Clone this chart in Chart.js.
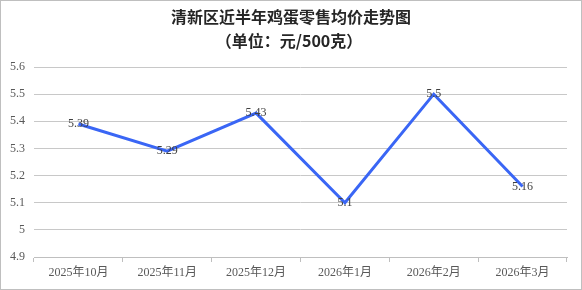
<!DOCTYPE html>
<html>
<head>
<meta charset="utf-8">
<script src="https://cdn.jsdelivr.net/npm/chart.js@4.4.1/dist/chart.umd.min.js"></script>
<style>
html,body{margin:0;padding:0;background:#fff;}
#wrap{width:582px;height:290px;position:relative;}
</style>
</head>
<body>
<div id="wrap"><canvas id="eggChart" width="582" height="290"></canvas></div>
<script>
(function () {

const months = ['2025年10月','2025年11月','2025年12月','2026年1月','2026年2月','2026年3月'];
const prices = [5.39, 5.29, 5.43, 5.1, 5.5, 5.16];
const titleLines = ['清新区近半年鸡蛋零售均价走势图', '（单位：元/500克）'];

const serif = '"Liberation Serif", "Noto Sans CJK SC", serif';

/* ---- frame, title and point labels ---- */
const decor = {
id: 'decor',
beforeDraw(chart) {
const {ctx} = chart;
ctx.save();
ctx.strokeStyle = '#bfbfbf';
ctx.lineWidth = 1;
ctx.strokeRect(0.5, 0.5, 581, 289);
ctx.fillStyle = '#262626';
ctx.font = 'bold 16px "Noto Sans CJK SC", sans-serif';
ctx.textAlign = 'center';
ctx.textBaseline = 'middle';
ctx.fillText(titleLines[0], 291, 17);
ctx.fillText(titleLines[1], 289, 41);
ctx.restore();
},
afterDatasetsDraw(chart) {
const {ctx} = chart;
const meta = chart.getDatasetMeta(0);
ctx.save();
ctx.font = '12px ' + serif;
ctx.fillStyle = '#404040';
ctx.textAlign = 'center';
ctx.textBaseline = 'middle';
meta.data.forEach((pt, i) => {
ctx.fillText(String(prices[i]), pt.x, pt.y);
});
ctx.restore();
}
};

new Chart(document.getElementById('eggChart').getContext('2d'), {
type: 'line',
data: {
labels: months,
datasets: [{
data: prices,
borderColor: '#3a66f5',
borderWidth: 3,
pointRadius: 0,
tension: 0,
fill: false
}]
},
options: {
responsive: false,
animation: false,
layout: {padding: {left: 0, right: 15, top: 67, bottom: 0}},
scales: {
x: {
offset: true,
grid: {offset: true, drawOnChartArea: false, drawTicks: true, tickLength: 5, color: '#bfbfbf'},
border: {display: true, color: '#bfbfbf'},
ticks: {color: '#595959', font: {family: serif, size: 12}, padding: 4, maxRotation: 0, autoSkip: false},
afterFit(scale) { scale.height = 33; }
},
y: {
min: 4.9,
max: 5.6,
ticks: {stepSize: 0.1, color: '#595959', font: {family: serif, size: 12}, padding: 9,
callback: v => String(+v.toFixed(1))},
grid: {color: '#c8c8c8', drawTicks: false},
border: {display: false},
afterFit(scale) { scale.width = 34; }
}
},
plugins: {
legend: {display: false},
tooltip: {enabled: false},
title: {display: false}
}
},
plugins: [decor]
});

})();
</script>
</body>
</html>
